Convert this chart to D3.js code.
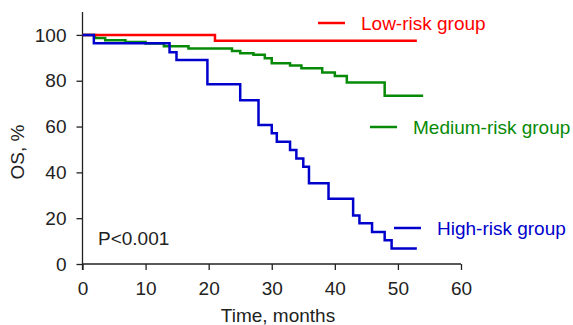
<!DOCTYPE html>
<html>
<head>
<meta charset="utf-8">
<script src="https://cdn.jsdelivr.net/npm/d3@7"></script>
<style>
  body { margin: 0; background: #fff; }
  text { font-family: "Liberation Sans", Arial, Helvetica, sans-serif; }
</style>
</head>
<body>
<div id="chart"></div>
<script>
// survival step data (months, OS %)
const lowTimes = [0, 21, 53];
const lowValues = [100, 97.4, 97.4];

const mediumTimes = [0, 2.0, 3.6, 6.8, 10.0, 12.9, 16.8, 23.7, 25.0, 27.1, 28.9, 30.0, 32.9, 34.7, 38.0, 40.0, 41.9, 47.9, 54.0];
const mediumValues = [100, 98.7, 97.7, 96.9, 96.2, 95.1, 94.1, 93.0, 92.0, 91.3, 89.8, 87.6, 86.6, 85.4, 83.6, 82.1, 79.2, 73.4, 73.4];

const highTimes = [0, 1.8, 13.8, 14.9, 19.8, 25.0, 27.9, 30.0, 30.8, 32.9, 33.9, 35.0, 35.9, 39.0, 42.9, 43.9, 45.9, 47.9, 49.0, 53.0];
const highValues = [100, 96.4, 92.4, 89.1, 78.5, 71.5, 60.7, 57.1, 53.4, 49.8, 46.1, 42.5, 35.3, 28.5, 21.2, 17.8, 14.0, 10.4, 6.8, 6.8];

const groupNames = ['Low-risk group', 'Medium-risk group', 'High-risk group'];
const xTicks = [0, 10, 20, 30, 40, 50, 60];
const yTicks = [0, 20, 40, 60, 80, 100];

const width = 573, height = 325;
const fontSize = 19;

const svg = d3.select('#chart')
    .append('svg')
    .attr('width', width)
    .attr('height', height);

const x = d3.scaleLinear().domain([0, 60]).range([82.5, 461]);
const y = d3.scaleLinear().domain([0, 110]).range([264, 12]);

const groups = [
  {name: groupNames[0], times: lowTimes, values: lowValues, color: '#ff0000', legend: [318, 23]},
  {name: groupNames[1], times: mediumTimes, values: mediumValues, color: '#078a07', legend: [370, 127]},
  {name: groupNames[2], times: highTimes, values: highValues, color: '#0000cc', legend: [394, 228]}
];

// axes
const xAxis = svg.append('g')
    .attr('transform', `translate(0, ${y(0)})`)
    .call(d3.axisBottom(x).tickValues(xTicks).tickSize(6).tickPadding(12));

const yAxis = svg.append('g')
    .attr('transform', `translate(${x(0)}, 0)`)
    .call(d3.axisLeft(y).tickValues(yTicks).tickSize(6).tickPadding(10));

[xAxis, yAxis].forEach(a => {
  a.select('.domain').attr('stroke', '#222').attr('stroke-width', 1.3);
  a.selectAll('.tick line').attr('stroke', '#222').attr('stroke-width', 1.3);
  a.selectAll('.tick text')
      .attr('fill', '#222')
      .style('font-size', fontSize + 'px')
      .style('font-family', '"Liberation Sans", Arial, sans-serif');
});
// y axis line reaches the top of the domain
yAxis.select('.domain').attr('d', `M0,${y(110)}V${y(0) + 6}`);
xAxis.select('.domain').attr('d', `M${x(0)},0H${x(60)}`);

// survival curves
const line = d3.line()
    .x(d => x(d[0]))
    .y(d => y(d[1]))
    .curve(d3.curveStepAfter);

// draw in order green, red, blue so overlaps look like the picture
[groups[1], groups[0], groups[2]].forEach(g => {
  svg.append('path')
      .datum(d3.zip(g.times, g.values))
      .attr('d', line)
      .attr('fill', 'none')
      .attr('stroke', g.color)
      .attr('stroke-width', 2.5);
});

// legend entries beside the curves
groups.forEach(g => {
  svg.append('line')
      .attr('x1', g.legend[0])
      .attr('x2', g.legend[0] + 27)
      .attr('y1', g.legend[1])
      .attr('y2', g.legend[1])
      .attr('stroke', g.color)
      .attr('stroke-width', 2.5);
  svg.append('text')
      .attr('x', g.legend[0] + 43)
      .attr('y', g.legend[1])
      .attr('dy', '0.35em')
      .attr('fill', g.color)
      .style('font-size', fontSize + 'px')
      .text(g.name);
});

svg.append('text')
    .attr('x', 98)
    .attr('y', 238)
    .attr('dy', '0.35em')
    .attr('fill', '#222')
    .style('font-size', fontSize + 'px')
    .text('P<0.001');

svg.append('text')
    .attr('x', 278)
    .attr('y', 315)
    .attr('dy', '0.35em')
    .attr('text-anchor', 'middle')
    .attr('fill', '#222')
    .style('font-size', fontSize + 'px')
    .text('Time, months');

svg.append('text')
    .attr('transform', 'translate(17, 152) rotate(-90)')
    .attr('dy', '0.35em')
    .attr('text-anchor', 'middle')
    .attr('fill', '#222')
    .style('font-size', fontSize + 'px')
    .text('OS, %');
</script>
</body>
</html>
